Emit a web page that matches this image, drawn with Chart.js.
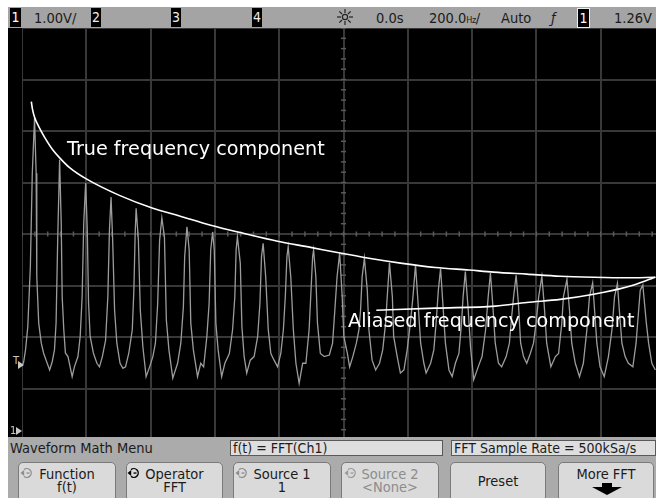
<!DOCTYPE html>
<html>
<head>
<meta charset="utf-8">
<script src="https://cdn.jsdelivr.net/npm/chart.js@4.4.1/dist/chart.umd.min.js"></script>
<style>
  body { margin: 0; width: 656px; height: 498px; overflow: hidden; background: #fff; position: relative;
         font-family: "DejaVu Sans Condensed", "DejaVu Sans", sans-serif; font-stretch: condensed; color: #1b1b1b; }
  .abs { position: absolute; white-space: nowrap; }
  #topbar { left: 8px; top: 7px; width: 648px; height: 21px; background: #a4a4a4; }
  #screen { left: 8px; top: 28px; width: 648px; height: 410px; background: #000; }
  #plot { left: 22px; top: 28px; width: 634px; height: 412px; }
  #menu { left: 8px; top: 437px; width: 648px; height: 61px; background: #ababab; }
  .tb { top: 8px; font-size: 14.5px; line-height: 21px; }
  .chbox { background: #000; color: #eee; text-align: center; font-size: 14px; line-height: 19px; height: 19px; top: 8px; }
  .note { color: #fff; font-family: "DejaVu Sans", sans-serif; font-stretch: normal; font-size: 19.2px; line-height: 19.2px; }
  .mk { color: #c8c8c8; font-size: 11px; line-height: 11px; }
  .field { top: 440px; height: 14px; background: #dedede; border: 1px solid #5a5a5a; font-size: 14px; line-height: 15px; padding-left: 2px; box-sizing: content-box; }
  .btn { top: 462px; height: 40px; background: #dadada; border: 1px solid #7a7a7a; border-radius: 5px; box-sizing: border-box; }
  .btn div { position: absolute; left: 0; width: 100%; text-align: center; font-size: 14.5px; line-height: 14px; }
  .l1 { top: 4px; }
  .l2 { top: 17px; }
  .dim { color: #8c8c8c; }
</style>
</head>
<body>
<div id="topbar" class="abs"></div>
<div class="abs chbox" style="left:10px;width:11px;color:#fff">1</div>
<div class="abs tb" style="left:34px">1.00V/</div>
<div class="abs chbox" style="left:91px;width:10px">2</div>
<div class="abs chbox" style="left:171px;width:10px">3</div>
<div class="abs chbox" style="left:252px;width:10px">4</div>
<svg class="abs" style="left:336px;top:8px" width="18" height="18" viewBox="0 0 18 18">
  <circle cx="9" cy="9" r="2.6" fill="none" stroke="#222" stroke-width="1.2"/>
  <g stroke="#222" stroke-width="1.2">
    <line x1="9" y1="1" x2="9" y2="5"/><line x1="9" y1="13" x2="9" y2="17"/>
    <line x1="1" y1="9" x2="5" y2="9"/><line x1="13" y1="9" x2="17" y2="9"/>
    <line x1="3.3" y1="3.3" x2="6" y2="6"/><line x1="12" y1="12" x2="14.7" y2="14.7"/>
    <line x1="14.7" y1="3.3" x2="12" y2="6"/><line x1="6" y1="12" x2="3.3" y2="14.7"/>
  </g>
</svg>
<div class="abs tb" style="left:376px">0.0s</div>
<div class="abs tb" style="left:429px">200.0<span style="font-size:9px;letter-spacing:-0.5px">Hz</span>/</div>
<div class="abs tb" style="left:501px">Auto</div>
<div class="abs tb" style="left:551px;font-style:italic">ƒ</div>
<div class="abs chbox" style="left:577px;width:11px;border:1px solid #eee;top:8px;height:18px;line-height:18px;color:#fff">1</div>
<div class="abs tb" style="left:614px">1.26V</div>

<div id="screen" class="abs"></div>
<div id="plot" class="abs"><canvas id="fft"></canvas></div>

<div class="abs mk" style="left:13px;top:355px">T</div>
<svg class="abs" style="left:18px;top:361px" width="6" height="8"><path d="M0 0 L6 4 L0 8 Z" fill="#c8c8c8"/></svg>
<div class="abs mk" style="left:10px;top:425px">1</div>
<svg class="abs" style="left:16px;top:427px" width="6" height="8"><path d="M0 0 L6 4 L0 8 Z" fill="#c8c8c8"/></svg>

<div class="abs note" style="left:67px;top:139px">True frequency component</div>
<div class="abs note" style="left:348px;top:311px">Aliased frequency component</div>

<div id="menu" class="abs"></div>
<div class="abs" style="left:10px;top:440px;font-size:14.5px;line-height:16px">Waveform Math Menu</div>
<div class="abs field" style="left:230px;width:209px">f(t) = FFT(Ch1)</div>
<div class="abs field" style="left:451px;width:201px">FFT Sample Rate = 500kSa/s</div>

<div class="abs btn" style="left:18px;width:98px"><div class="l1">Function</div><div class="l2">f(t)</div></div>
<div class="abs btn" style="left:126px;width:97px"><div class="l1">Operator</div><div class="l2">FFT</div></div>
<div class="abs btn" style="left:233px;width:98px"><div class="l1">Source 1</div><div class="l2">1</div></div>
<div class="abs btn dim" style="left:341px;width:98px"><div class="l1">Source 2</div><div class="l2">&lt;None&gt;</div></div>
<div class="abs btn" style="left:450px;width:96px"><div class="l1" style="top:11px">Preset</div></div>
<div class="abs btn" style="left:558px;width:96px"><div class="l1">More FFT</div>
  <svg style="position:absolute;left:33px;top:20px" width="30" height="12"><path d="M10 0 H20 V4 H30 L15 12 L0 4 H10 Z" fill="#000"/></svg></div>

<svg class="abs" style="left:20px;top:467px" width="14" height="12" viewBox="0 0 14 12"><path d="M4 2.6 A4.4 4.4 0 1 1 4 9.4" fill="none" stroke="#8c8c8c" stroke-width="1.3"/><path d="M0.5 6 L4.2 3 L4.2 9 Z" fill="#8c8c8c"/><rect x="6.5" y="5.4" width="3" height="1.3" fill="#8c8c8c"/></svg>
<svg class="abs" style="left:127px;top:467px" width="14" height="12" viewBox="0 0 14 12"><path d="M4 2.6 A4.4 4.4 0 1 1 4 9.4" fill="none" stroke="#000" stroke-width="1.4"/><path d="M0.5 6 L4.2 3 L4.2 9 Z" fill="#000"/><rect x="6.5" y="5.4" width="3" height="1.3" fill="#000"/></svg>
<svg class="abs" style="left:235px;top:467px" width="14" height="12" viewBox="0 0 14 12"><path d="M4 2.6 A4.4 4.4 0 1 1 4 9.4" fill="none" stroke="#8c8c8c" stroke-width="1.3"/><path d="M0.5 6 L4.2 3 L4.2 9 Z" fill="#8c8c8c"/><rect x="6.5" y="5.4" width="3" height="1.3" fill="#8c8c8c"/></svg>
<svg class="abs" style="left:344px;top:467px" width="14" height="12" viewBox="0 0 14 12"><path d="M4 2.6 A4.4 4.4 0 1 1 4 9.4" fill="none" stroke="#9a9a9a" stroke-width="1.3"/><path d="M0.5 6 L4.2 3 L4.2 9 Z" fill="#9a9a9a"/><rect x="6.5" y="5.4" width="3" height="1.3" fill="#9a9a9a"/></svg>

<script>
// FFT of Ch1, 200 Hz/div, 10 dB/div, one line per spectral line (peak is the last value)
const traceHz = [
  0, 5, 11, 18, 26, 32, 39,
  44, 46, 52, 60, 67, 75, 86, 94, 101, 106, 111, 117,
  122, 125, 130, 135, 143, 156, 163, 174, 181, 187, 192, 198,
  203, 207, 212, 222, 233, 241, 250, 260, 267, 272, 277,
  282, 288, 295, 305, 314, 322, 332, 343, 348, 352, 355,
  362, 368, 376, 386, 397, 407, 415, 422, 428, 435,
  443, 449, 457, 469, 484, 494, 502, 506, 513,
  520, 525, 533, 546, 556, 565, 575, 582, 587, 593,
  598, 603, 610, 621, 631, 645, 655, 662, 666, 670,
  679, 684, 691, 699, 710, 722, 733, 740, 745, 750,
  758, 766, 774, 784, 795, 805, 813, 819, 824, 828,
  836, 844, 852, 862, 873, 883, 893, 898, 904, 907,
  914, 919, 928, 940, 956, 966, 973, 980, 988,
  996, 1001, 1012, 1019, 1029, 1040, 1048, 1053, 1058, 1065,
  1074, 1079, 1089, 1100, 1112, 1122, 1131, 1136, 1143,
  1152, 1156, 1167, 1177, 1188, 1198, 1208, 1216, 1224,
  1232, 1240, 1250, 1257, 1271, 1281, 1288, 1295, 1302,
  1309, 1317, 1328, 1338, 1348, 1359, 1367, 1372, 1379,
  1388, 1395, 1405, 1419, 1431, 1442, 1450, 1457,
  1464, 1472, 1482, 1492, 1506, 1516, 1523, 1529, 1537,
  1544, 1551, 1560, 1570, 1581, 1591, 1599, 1607, 1617,
  1624, 1632, 1645, 1659, 1669, 1679, 1684, 1695,
  1703, 1710, 1721, 1734, 1746, 1757, 1765, 1775,
  1781, 1788, 1798, 1811, 1824, 1835, 1843, 1852,
  1858, 1866, 1876, 1886, 1900, 1910, 1918, 1923, 1931,
  1942, 1949, 1959, 1970
];
const traceDb = [
  -25.6, -24.9, -22.5, -18.0, -6.3, 11.8, 22.5,
  11.8, -8.3, -17.3, -21.2, -23.1, -24.5, -26.4, -24.8, -22.5, -17.3, -1.2, 14.4,
  2.1, -12.2, -18.6, -23.1, -23.8, -27.7, -25.8, -23.8, -19.9, -12.2, 2.1, 9.9,
  0.8, -13.4, -19.9, -23.1, -25.1, -25.8, -23.8, -20.6, -12.2, 0.8, 7.2,
  -1.2, -14.8, -21.2, -25.1, -26.1, -25.8, -23.2, -18.6, -10.9, 0.1, 5.0,
  -1.2, -14.8, -21.9, -27.7, -25.8, -23.8, -21.2, -13.5, -1.2, 3.1,
  -0.5, -16.7, -22.5, -28.0, -25.1, -21.2, -14.1, -4.4, 1.4,
  -3.1, -17.3, -22.5, -27.7, -25.1, -25.8, -19.9, -13.5, -3.1, 0.4,
  -3.1, -17.3, -22.5, -27.7, -25.1, -23.2, -18.6, -12.2, -3.1, -0.5,
  -5.7, -18.0, -23.8, -27.0, -24.5, -23.8, -19.9, -13.5, -4.4, -1.8,
  -8.3, -18.6, -23.2, -24.5, -25.8, -23.2, -18.6, -12.2, -4.4, -2.5,
  -8.3, -18.6, -25.1, -29.0, -25.1, -25.1, -18.6, -12.2, -4.4, -3.1,
  -8.3, -17.3, -23.2, -23.8, -23.5, -21.2, -14.8, -8.3, -3.7,
  -12.2, -19.9, -23.2, -25.8, -23.8, -21.2, -18.6, -14.8, -8.3, -4.7,
  -10.9, -18.6, -24.5, -26.4, -25.1, -22.5, -17.3, -12.2, -5.6,
  -12.2, -19.9, -23.8, -27.0, -26.4, -22.5, -17.3, -12.2, -6.0,
  -13.5, -21.2, -25.1, -27.0, -25.1, -22.5, -17.3, -10.9, -6.7,
  -13.5, -21.2, -26.4, -27.7, -25.1, -23.2, -17.3, -12.2, -7.3,
  -14.8, -21.9, -28.3, -25.8, -23.8, -18.6, -12.2, -7.6,
  -13.5, -21.2, -25.1, -25.8, -23.8, -21.2, -16.1, -12.2, -8.0,
  -13.5, -21.2, -23.8, -25.1, -23.2, -21.2, -17.3, -12.2, -8.2,
  -13.5, -21.2, -25.8, -23.8, -23.2, -17.3, -12.2, -8.8,
  -14.8, -21.2, -25.1, -27.7, -25.1, -18.6, -12.2, -9.5,
  -14.8, -21.2, -25.8, -27.7, -23.8, -18.6, -12.2, -9.6,
  -14.8, -21.2, -23.8, -25.1, -25.8, -21.2, -14.8, -10.9, -9.9,
  -17.3, -21.2, -25.1, -26.4
];

// hand-drawn envelopes over the peaks
const trueHz = [29, 33, 40, 51, 70, 96, 123, 148, 200, 303, 407, 490, 587, 691, 795, 898, 981, 1079, 1183, 1286, 1390, 1467, 1570, 1674, 1778, 1881, 1970];
const trueDb = [25.7, 24.1, 22.5, 21.0, 18.8, 16.3, 14.4, 12.9, 10.7, 7.5, 5.0, 3.5, 1.7, 0.1, -1.4, -2.6, -3.6, -4.7, -5.7, -6.5, -7.0, -7.4, -7.8, -8.2, -8.4, -8.5, -8.4];
const aliasHz = [1102, 1286, 1473, 1570, 1674, 1778, 1881, 1970];
const aliasDb = [-14.8, -14.4, -14.0, -13.3, -12.7, -11.7, -10.3, -8.4];

// graticule
const xGrid = [0, 200, 400, 600, 800, 1000, 1200, 1400, 1600, 1800];
const spanHz = 1972;
const dbMin = -40, dbMax = 40;

const pts = (xs, ys) => xs.map((x, i) => ({ x, y: ys[i] }));

// small sub-division marks on the centre lines
const centerMarks = {
  id: 'centerMarks',
  beforeDatasetsDraw(chart) {
    const { ctx, scales: { x, y } } = chart;
    const cx = x.getPixelForValue(1000), cy = y.getPixelForValue(0);
    ctx.save();
    ctx.fillStyle = '#5a5a5a';
    for (let v = 0; v <= spanHz; v += 40) {
      const px = x.getPixelForValue(v);
      ctx.fillRect(px - 0.75, cy - 2.5, 1.5, 5);
    }
    for (let v = dbMin; v <= dbMax; v += 2) {
      const py = y.getPixelForValue(v);
      ctx.fillRect(cx - 2.5, py - 0.75, 5, 1.5);
    }
    ctx.restore();
  }
};

const gridStyle = { color: '#383838', lineWidth: 2, drawTicks: false };

new Chart(document.getElementById('fft'), {
  type: 'line',
  data: {
    datasets: [
      { label: 'True frequency component', data: pts(trueHz, trueDb), borderColor: '#fff', borderWidth: 1.6,
        pointRadius: 0, cubicInterpolationMode: 'monotone', order: 0 },
      { label: 'Aliased frequency component', data: pts(aliasHz, aliasDb), borderColor: '#fff', borderWidth: 1.6,
        pointRadius: 0, cubicInterpolationMode: 'monotone', order: 1 },
      { label: 'FFT(Ch1)', data: pts(traceHz, traceDb), borderColor: '#9c9c9c', borderWidth: 1.3,
        pointRadius: 0, tension: 0, order: 2 }
    ]
  },
  options: {
    responsive: true,
    maintainAspectRatio: false,
    animation: false,
    events: [],
    layout: { padding: 0 },
    plugins: { legend: { display: false }, tooltip: { enabled: false } },
    scales: {
      x: {
        type: 'linear', min: 0, max: spanHz,
        afterBuildTicks: s => { s.ticks = xGrid.map(v => ({ value: v })); },
        ticks: { display: false },
        grid: gridStyle,
        border: { display: false }
      },
      y: {
        min: dbMin, max: dbMax,
        ticks: { display: false, stepSize: 10 },
        grid: gridStyle,
        border: { display: false }
      }
    }
  },
  plugins: [centerMarks]
});
</script>
</body>
</html>
